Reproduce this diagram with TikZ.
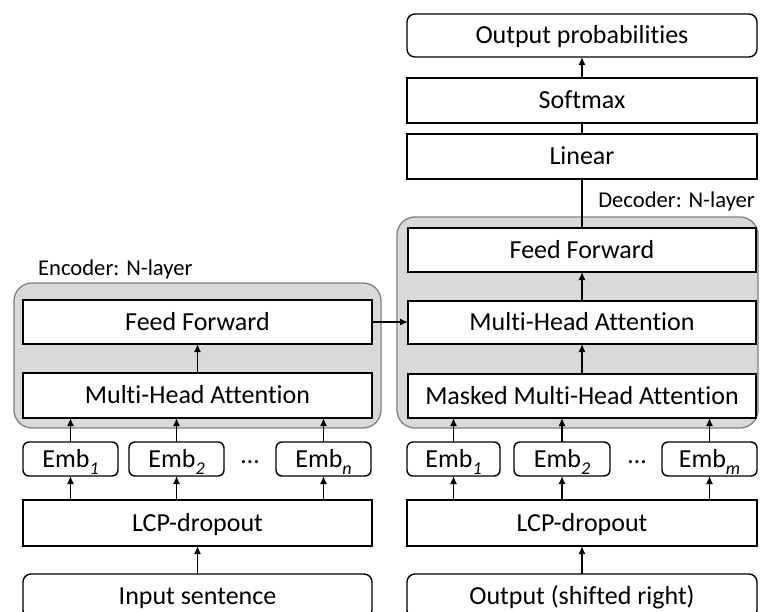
\documentclass[tikz,border=0pt]{standalone}
\usepackage{fontspec}
\setmainfont{Carlito}[Ligatures=CommonOff]
\usetikzlibrary{arrows.meta}

% italic subscript for the embedding index
\newcommand{\embidx}[1]{\raisebox{-0.28em}{\fontsize{18}{20}\selectfont\itshape #1}}

\definecolor{layerfill}{HTML}{D9D9D9}
\definecolor{layerline}{HTML}{808080}

\begin{document}
\begin{tikzpicture}[x=1pt, y=-1pt,
  box/.style={draw=black, line width=1.4pt, fill=white, inner sep=0pt, outer sep=0pt,
    font=\fontsize{26}{30}\selectfont, text height=16.4pt, text depth=0pt},
  rbox/.style={box, rounded corners=8pt},
  ebox/.style={box, rounded corners=6pt, minimum height=34pt},
  layer/.style={draw=layerline, fill=layerfill, line width=1.3pt, rounded corners=18pt,
    inner sep=0pt, outer sep=0pt},
  caption/.style={inner sep=0pt, font=\fontsize{22.6}{26}\selectfont, text height=14.3pt, text depth=0pt},
  dotsnode/.style={inner sep=0pt, font=\fontsize{26}{30}\selectfont},
  arr/.style={-{Latex[length=8pt,width=7pt]}, line width=1.4pt},
  link/.style={line width=1.4pt}
]
\useasboundingbox (0,0) rectangle (760,611);
\clip (0,0) rectangle (760,611);

% ---------------- encoder ----------------
\node[layer, minimum width=367pt, minimum height=145pt] (enclayer) at (197.5,355.5) {};
\node[caption, anchor=west] (enclabel) at (38,268) {Encoder: N-layer};
\node[box, minimum width=349pt, minimum height=44pt] (encff) at (197.5,322) {Feed Forward};
\node[box, minimum width=349pt, minimum height=45pt] (encmha) at (197.5,395.5) {Multi-Head Attention};

\node[ebox, minimum width=95pt] (eemb1) at (70.5,459) {Emb\embidx{1}};
\node[ebox, minimum width=95pt] (eemb2) at (176.5,459) {Emb\embidx{2}};
\node[ebox, minimum width=95pt] (eembn) at (323.5,459) {Emb\embidx{n}};
\node[dotsnode] (edots) at (250,462) {…};

\node[box, minimum width=349pt, minimum height=46pt] (elcp) at (197.5,523) {LCP-dropout};
\node[rbox, minimum width=349pt, minimum height=44pt] (input) at (197.5,596) {Input sentence};

% ---------------- decoder ----------------
\node[layer, minimum width=361pt, minimum height=211pt] (declayer) at (577.5,322.5) {};
\node[caption, anchor=east] (declabel) at (755,200) {Decoder: N-layer};
\node[box, minimum width=348pt, minimum height=44pt] (decff) at (582,250) {Feed Forward};
\node[box, minimum width=348pt, minimum height=43pt] (decmha) at (582,322.5) {Multi-Head Attention};
\node[box, minimum width=348pt, minimum height=44pt] (decmask) at (582,396) {Masked Multi-Head Attention};

\node[ebox, minimum width=93pt] (demb1) at (453.5,459) {Emb\embidx{1}};
\node[ebox, minimum width=96pt] (demb2) at (562,459) {Emb\embidx{2}};
\node[ebox, minimum width=95pt] (dembm) at (709.5,459) {Emb\embidx{m}};
\node[dotsnode] (ddots) at (637,462) {…};

\node[box, minimum width=350pt, minimum height=46pt] (dlcp) at (582,523) {LCP-dropout};
\node[rbox, minimum width=350pt, minimum height=44pt] (shifted) at (582,596) {Output (shifted right)};

% ---------------- output head ----------------
\node[box, minimum width=350pt, minimum height=45pt] (linear) at (582,156.5) {Linear};
\node[box, minimum width=350pt, minimum height=45pt] (softmax) at (582,100.5) {Softmax};
\node[rbox, minimum width=350pt, minimum height=43pt] (outprob) at (582,35.5) {Output probabilities};

% ---------------- connectors: encoder ----------------
\draw[arr] (input.north) -- (elcp.south);
\foreach \e in {eemb1,eemb2,eembn}{
  \draw[arr] (\e.south |- elcp.north) -- (\e.south);
  \draw[arr] (\e.north) -- (\e.north |- encmha.south);
}
\draw[arr] (encmha.north) -- (encff.south);

% ---------------- connectors: decoder ----------------
\draw[arr] (shifted.north) -- (dlcp.south);
\foreach \e in {demb1,demb2,dembm}{
  \draw[arr] (\e.south |- dlcp.north) -- (\e.south);
  \draw[arr] (\e.north) -- (\e.north |- decmask.south);
}
\draw[arr] (decmask.north) -- (decmha.south);
\draw[arr] (decmha.north) -- (decff.south);
\draw[arr] (encff.east) -- (encff.east -| decmha.west);

% ---------------- connectors: output head ----------------
\draw[link] (decff.north) -- (linear.south);
\draw[link] (linear.north) -- (softmax.south);
\draw[arr] (softmax.north) -- (outprob.south);
\end{tikzpicture}
\end{document}
